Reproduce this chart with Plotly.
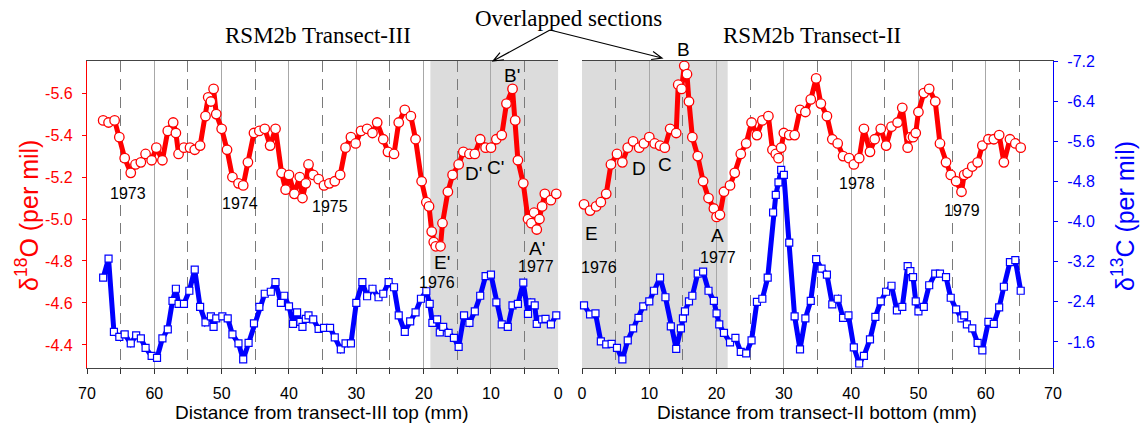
import math
import plotly.graph_objects as go

# ---------------- data ----------------
# Transect-III (left panel), distance from top (mm)
o18_III_x = [67.6, 66.8, 65.9, 65.2, 64.4, 63.5, 62.8, 62.0, 61.3, 60.4, 59.7, 58.8, 58.0, 57.2, 56.8, 56.4,
             55.6, 54.7, 54.0, 53.2, 52.4, 52.0, 51.6, 51.2, 50.8, 50.0, 49.2, 48.4, 47.5, 46.8, 46.1, 45.2,
             44.4, 43.6, 42.8, 42.0, 41.1, 40.5, 40.0, 39.2, 38.4, 38.0, 37.5, 37.1, 36.4, 35.6, 34.8, 34.0,
             33.2, 32.4, 31.6, 30.8, 30.1, 29.3, 28.4, 27.6, 26.9, 26.0, 25.3, 24.4, 23.7, 22.8, 21.9, 21.2,
             20.3, 19.6, 19.2, 18.8, 18.5, 18.2, 17.5, 17.2, 16.4, 15.7, 14.8, 14.1, 13.2, 12.4, 11.6, 10.8,
             10.0, 9.2, 8.4, 7.7, 6.8, 6.4, 6.0, 5.2, 4.5, 4.0, 3.6, 3.2, 2.8, 2.4, 2.0, 1.1, 0.3]
o18_III = [-5.47, -5.46, -5.47, -5.39, -5.29, -5.22, -5.26, -5.27, -5.31, -5.28, -5.34, -5.28, -5.42, -5.46,
           -5.41, -5.31, -5.34, -5.34, -5.33, -5.35, -5.49, -5.58, -5.56, -5.62, -5.50, -5.43, -5.33, -5.20,
           -5.17, -5.16, -5.27, -5.41, -5.42, -5.43, -5.35, -5.43, -5.22, -5.14, -5.21, -5.12, -5.20, -5.10,
           -5.17, -5.26, -5.21, -5.19, -5.16, -5.17, -5.18, -5.21, -5.34, -5.39, -5.36, -5.42, -5.43, -5.41,
           -5.46, -5.38, -5.32, -5.31, -5.46, -5.52, -5.49, -5.38, -5.18, -5.08, -5.06, -4.94, -4.89, -4.87,
           -4.87, -4.98, -5.13, -5.21, -5.26, -5.32, -5.31, -5.31, -5.38, -5.34, -5.34, -5.38, -5.40, -5.55,
           -5.62, -5.47, -5.28, -5.17, -5.00, -4.98, -5.03, -4.95, -5.00, -5.06, -5.12, -5.09, -5.12]

c13_III_x = [67.6, 66.8, 66.0, 65.2, 64.4, 63.5, 62.7, 62.0, 61.3, 60.4, 59.6, 58.8, 58.0, 57.3, 56.8, 56.4,
             55.6, 54.8, 54.0, 53.2, 52.4, 51.6, 51.2, 50.8, 49.9, 49.1, 48.4, 47.5, 46.8, 46.0, 45.2, 44.4,
             43.6, 42.7, 42.0, 41.2, 40.7, 40.0, 39.4, 38.8, 38.3, 38.0, 37.5, 37.1, 36.4, 35.6, 34.8, 33.9,
             33.2, 32.3, 31.6, 30.8, 30.0, 29.1, 28.4, 27.6, 26.7, 26.0, 25.2, 24.4, 23.7, 22.8, 22.0, 21.2,
             20.4, 19.6, 19.1, 18.7, 18.0, 17.6, 17.1, 16.3, 15.5, 14.8, 14.0, 13.2, 12.4, 11.6, 10.8, 10.0,
             9.2, 8.4, 7.5, 6.8, 6.0, 5.2, 4.5, 4.0, 3.5, 3.2, 2.4, 1.9, 1.1, 0.3]
c13_III = [-2.88, -3.26, -1.80, -1.70, -1.75, -1.57, -1.73, -1.67, -1.48, -1.32, -1.28, -1.67, -1.85, -2.42,
           -2.66, -2.36, -2.36, -2.62, -3.04, -2.30, -1.99, -2.11, -1.90, -2.07, -2.11, -2.07, -1.75, -1.57,
           -1.25, -1.58, -1.97, -2.30, -2.56, -2.60, -2.79, -2.38, -2.52, -2.31, -1.96, -2.19, -2.00, -1.90,
           -2.06, -2.13, -2.05, -1.86, -1.88, -1.88, -1.69, -1.45, -1.57, -1.57, -2.38, -2.79, -2.51, -2.66,
           -2.49, -2.56, -2.79, -2.69, -2.13, -1.80, -2.01, -2.19, -2.46, -2.61, -2.36, -1.98, -2.05, -1.79,
           -1.90, -1.78, -1.68, -1.50, -2.13, -1.98, -2.21, -2.52, -2.91, -2.94, -2.39, -1.95, -1.90, -2.33,
           -2.36, -2.78, -2.16, -2.39, -2.33, -1.96, -2.05, -2.06, -1.95, -2.13]

# Transect-II (right panel), distance from bottom (mm)
o18_II_x = [0.3, 1.2, 2.1, 2.8, 3.6, 4.3, 5.2, 6.0, 6.8, 7.6, 8.5, 9.2, 10.0, 10.8, 11.6, 12.3, 13.1, 14.0,
            14.3, 14.8, 15.2, 15.6, 15.9, 16.4, 17.2, 18.0, 18.8, 19.6, 20.0, 20.5, 21.1, 22.0, 22.7, 23.6,
            24.4, 25.2, 26.0, 26.8, 27.7, 28.3, 28.8, 29.2, 29.6, 30.0, 30.8, 31.6, 32.4, 33.2, 34.0, 34.8,
            35.5, 36.4, 37.2, 38.0, 38.8, 39.7, 40.4, 41.2, 41.9, 42.8, 43.5, 44.4, 45.2, 46.0, 46.9, 47.6,
            48.4, 48.8, 49.2, 49.6, 50.0, 50.8, 51.6, 52.5, 53.2, 54.1, 54.8, 55.6, 56.4, 56.8, 57.3, 58.0,
            58.8, 59.5, 60.4, 61.2, 62.0, 62.7, 63.6, 64.4, 65.2]
o18_II = [-5.07, -5.04, -5.06, -5.08, -5.12, -5.26, -5.31, -5.27, -5.34, -5.37, -5.34, -5.36, -5.39, -5.36,
          -5.35, -5.34, -5.43, -5.41, -5.64, -5.62, -5.73, -5.69, -5.56, -5.39, -5.30, -5.18, -5.10, -5.05,
          -5.01, -5.02, -5.13, -5.16, -5.22, -5.31, -5.36, -5.46, -5.40, -5.47, -5.49, -5.33, -5.31, -5.29,
          -5.34, -5.41, -5.40, -5.40, -5.52, -5.51, -5.57, -5.67, -5.55, -5.49, -5.38, -5.36, -5.30, -5.29,
          -5.26, -5.29, -5.43, -5.32, -5.38, -5.43, -5.35, -5.44, -5.46, -5.53, -5.34, -5.39, -5.39, -5.41,
          -5.51, -5.60, -5.62, -5.56, -5.36, -5.27, -5.21, -5.18, -5.13, -5.21, -5.22, -5.25, -5.27, -5.35,
          -5.38, -5.38, -5.40, -5.27, -5.38, -5.36, -5.34]

c13_II_x = [0.3, 1.2, 2.0, 2.8, 3.6, 4.4, 5.2, 6.0, 6.8, 7.6, 8.4, 9.1, 10.0, 10.7, 11.6, 12.4, 13.2, 14.0,
            14.7, 15.0, 15.3, 15.9, 16.4, 17.2, 18.0, 18.8, 19.6, 20.0, 20.4, 21.1, 22.0, 22.8, 23.6, 24.4,
            25.2, 26.0, 26.8, 27.6, 28.4, 28.8, 29.2, 29.6, 30.0, 30.8, 31.6, 32.4, 33.2, 34.0, 34.8, 35.6,
            36.4, 37.2, 38.0, 38.8, 39.6, 40.4, 41.2, 41.9, 42.8, 43.6, 44.4, 45.2, 46.0, 46.8, 47.6, 48.4,
            48.8, 49.2, 49.6, 50.0, 50.8, 51.6, 52.5, 53.2, 54.1, 54.8, 55.6, 56.4, 56.8, 57.2, 58.0, 58.8,
            59.5, 60.4, 61.2, 62.0, 62.7, 63.6, 64.4, 65.2]
c13_II = [-2.33, -2.15, -2.17, -1.61, -1.55, -1.56, -1.48, -1.25, -1.63, -1.87, -2.08, -2.31, -2.41, -2.62,
          -2.88, -2.49, -1.91, -1.46, -1.87, -2.07, -2.21, -2.41, -2.52, -2.96, -3.00, -2.62, -2.42, -2.17,
          -1.95, -1.78, -1.59, -1.68, -1.40, -1.37, -1.63, -2.40, -2.46, -2.88, -4.18, -4.53, -4.78, -5.03,
          -4.93, -3.58, -2.11, -1.45, -2.07, -2.42, -3.25, -3.06, -2.94, -2.35, -2.46, -2.08, -2.13, -1.49,
          -1.17, -1.32, -1.65, -2.10, -2.41, -2.60, -2.72, -2.23, -2.30, -3.11, -3.01, -2.89, -2.41, -2.21,
          -2.30, -2.73, -2.96, -2.96, -2.89, -2.48, -2.25, -2.07, -2.13, -1.95, -1.87, -1.58, -1.43, -2.00,
          -1.96, -2.29, -2.70, -3.19, -3.23, -2.62]

x_ticks = [0, 10, 20, 30, 40, 50, 60, 70]
o18_ticks = [-5.6, -5.4, -5.2, -5.0, -4.8, -4.6, -4.4]
c13_ticks = [-7.2, -6.4, -5.6, -4.8, -4.0, -3.2, -2.4, -1.6]
overlap_III = [19.0, 0.0]
overlap_II = [0.0, 21.65]

# ---------------- layout geometry ----------------
W, H = 1145, 426
ML, MR, MT, MB = 87, 92, 61, 58
PW = W - ML - MR
PH = H - MT - MB


def pxx(xp):
    return (xp - ML) / PW


def pxy(yp):
    return (H - MB - yp) / PH


RED = "#ff0000"
BLUE = "#0000ff"
SANS = "Arial, Liberation Sans, sans-serif"
SERIF = "Times New Roman, Liberation Serif, serif"

fig = go.Figure()

red_line = dict(color=RED, width=5)
red_marker = dict(symbol="circle", size=9.5, color="white", line=dict(color=RED, width=1.3))
blue_line = dict(color=BLUE, width=5)
blue_marker = dict(symbol="square", size=7, color="white", line=dict(color=BLUE, width=1.2))

fig.add_trace(go.Scatter(x=o18_III_x, y=o18_III, mode="lines+markers", line=red_line,
                         marker=red_marker, xaxis="x", yaxis="y", cliponaxis=False))
fig.add_trace(go.Scatter(x=c13_III_x, y=c13_III, mode="lines+markers", line=blue_line,
                         marker=blue_marker, xaxis="x", yaxis="y2", cliponaxis=False))
fig.add_trace(go.Scatter(x=o18_II_x, y=o18_II, mode="lines+markers", line=red_line,
                         marker=red_marker, xaxis="x2", yaxis="y3", cliponaxis=False))
fig.add_trace(go.Scatter(x=c13_II_x, y=c13_II, mode="lines+markers", line=blue_line,
                         marker=blue_marker, xaxis="x2", yaxis="y4", cliponaxis=False))

o18_range = [-4.29, -5.753]
c13_range = [-1.08, -7.2]

xcommon = dict(
    tickmode="array", tickvals=x_ticks, ticktext=[str(v) for v in x_ticks],
    ticks="outside", ticklen=5, tickcolor="#333", tickwidth=1, ticklabelstandoff=6,
    showline=True, linecolor="#444", linewidth=1.2, mirror=True,
    showgrid=True, gridcolor="#a8a8a8", gridwidth=1,
    minor=dict(tickmode="linear", tick0=0, dtick=5, showgrid=True, gridcolor="#7a7a7a",
               griddash="11px,7px", gridwidth=1, ticks="outside", ticklen=5, tickcolor="#333"),
    zeroline=False, tickfont=dict(family=SANS, size=16, color="black"),
)

fig.update_layout(
    width=W, height=H,
    margin=dict(l=ML, r=MR, t=MT, b=MB),
    paper_bgcolor="white", plot_bgcolor="white",
    showlegend=False,
    xaxis=dict(domain=[0, (558.3 - ML) / PW], range=[70, 0], anchor="y", **xcommon),
    xaxis2=dict(domain=[(582 - ML) / PW, 1], range=[0, 70], anchor="y3", **xcommon),
    yaxis=dict(range=o18_range, anchor="x", tickmode="array", tickvals=o18_ticks,
               ticktext=["%.1f" % v for v in o18_ticks], ticks="outside", ticklen=4,
               ticklabelstandoff=6,
               tickcolor=RED, showline=True, linecolor=RED, linewidth=1.2, showgrid=False,
               zeroline=False, tickfont=dict(family=SANS, size=16, color=RED)),
    yaxis2=dict(range=c13_range, overlaying="y", anchor="x", visible=False,
                showgrid=False, zeroline=False),
    yaxis3=dict(range=o18_range, anchor="x2", visible=False, showgrid=False, zeroline=False),
    yaxis4=dict(range=c13_range, overlaying="y3", anchor="x2", side="right",
                tickmode="array", tickvals=c13_ticks, ticktext=["%.1f" % v for v in c13_ticks],
                ticks="outside", ticklen=4, ticklabelstandoff=6,
                tickcolor=BLUE, showline=True, linecolor=BLUE,
                linewidth=1.2, showgrid=False, zeroline=False,
                tickfont=dict(family=SANS, size=16, color=BLUE)),
)

# shaded overlapped sections
shapes = [
    dict(type="rect", xref="x", yref="y domain", x0=overlap_III[0], x1=overlap_III[1], y0=0, y1=1,
         fillcolor="#dcdcdc", line=dict(width=0), layer="below"),
    dict(type="rect", xref="x2", yref="y3 domain", x0=overlap_II[0], x1=overlap_II[1], y0=0, y1=1,
         fillcolor="#dcdcdc", line=dict(width=0), layer="below"),
]


def arrow(tail, head, wing=11, ang=22):
    dx, dy = head[0] - tail[0], head[1] - tail[1]
    n = math.hypot(dx, dy)
    ux, uy = dx / n, dy / n
    pts = []
    for s in (1, -1):
        a = math.radians(ang) * s
        rx = ux * math.cos(a) - uy * math.sin(a)
        ry = ux * math.sin(a) + uy * math.cos(a)
        pts.append((head[0] - wing * rx, head[1] - wing * ry))
    path = "M %f,%f L %f,%f M %f,%f L %f,%f L %f,%f" % (
        pxx(tail[0]), pxy(tail[1]), pxx(head[0]), pxy(head[1]),
        pxx(pts[0][0]), pxy(pts[0][1]), pxx(head[0]), pxy(head[1]), pxx(pts[1][0]), pxy(pts[1][1]))
    return dict(type="path", xref="paper", yref="paper", path=path,
                line=dict(color="black", width=1.2), layer="above")


shapes.append(arrow((550, 30), (493, 61)))
shapes.append(arrow((550, 30), (662, 58)))
fig.update_layout(shapes=shapes)

annotations = []


def label(text, xp, yp, size, color="black", family=SANS, angle=0):
    annotations.append(dict(text=text, x=pxx(xp), y=pxy(yp), xref="paper", yref="paper",
                            showarrow=False, xanchor="center", yanchor="middle",
                            textangle=angle, font=dict(family=family, size=size, color=color)))


label("RSM2b Transect-III", 318, 36, 23, family=SERIF)
label("RSM2b Transect-II", 812, 36, 23, family=SERIF)
label("Overlapped sections", 568, 19, 23, family=SERIF)

for t, xp, yp in [("B'", 512, 75), ("D'", 473, 173), ("C'", 495, 167), ("E'", 442, 262), ("A'", 537, 248),
                  ("B", 683, 50), ("D", 639, 168), ("C", 665, 164), ("E", 591, 233), ("A", 717, 235)]:
    label(t, xp, yp, 19)

for t, xp, yp in [("1973", 128, 193), ("1974", 240, 203), ("1975", 330, 206), ("1976", 437, 282),
                  ("1977", 536, 266), ("1976", 599, 267), ("1977", 718, 257), ("1978", 857, 183),
                  ("1979", 962, 210)]:
    label(t, xp, yp, 16)

label("Distance from transect-III top (mm)", 322, 412, 19)
label("Distance from transect-II bottom (mm)", 817, 412, 19)
label("δ<sup>18</sup>O (per mil)", 27, 216, 25, color=RED, angle=-90)
label("δ<sup>13</sup>C (per mil)", 1123, 216, 25, color=BLUE, angle=-90)

fig.update_layout(annotations=annotations)

fig.write_html(
    "out.html",
    config={"displayModeBar": False},
    post_script="document.body.style.margin='0px';document.body.style.overflow='hidden';",
)
